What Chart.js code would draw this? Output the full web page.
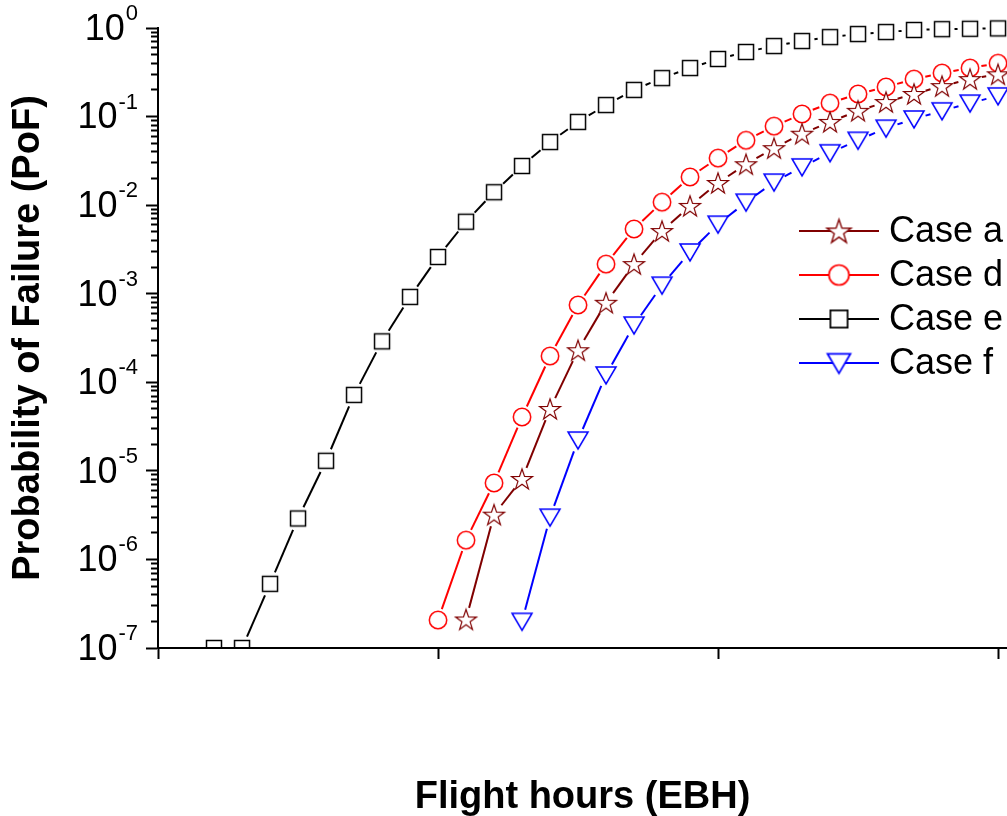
<!DOCTYPE html>
<html>
<head>
<meta charset="utf-8">
<script src="https://cdn.jsdelivr.net/npm/chart.js@4.4.1/dist/chart.umd.min.js"></script>
<style>
  html, body { margin: 0; padding: 0; background: #fff; }
</style>
</head>
<body>
<canvas id="pof_chart" width="1007" height="816"></canvas>
<script>
// flight hours axis (no tick labels on the original, major ticks every 10 steps)
const flightHours = [0, 1, 2, 3, 4, 5, 6, 7, 8, 9, 10, 11, 12, 13, 14, 15, 16, 17, 18, 19, 20, 21, 22, 23, 24, 25, 26, 27, 28, 29, 30];
const xTicks = [0, 10, 20, 30];
const yTickExp = [0, -1, -2, -3, -4, -5, -6, -7];

const caseA = [null, null, null, null, null, null, null, null, null, null, null,
  2.1e-7, 3.2e-6, 8.1e-6, 5.0e-5, 2.3e-4, 7.9e-4, 2.16e-3, 5.1e-3, 9.8e-3, 1.78e-2,
  2.9e-2, 4.4e-2, 6.4e-2, 8.7e-2, 0.116, 0.146, 0.18, 0.221, 0.265, 0.30];
const caseD = [null, null, null, null, null, null, null, null, null, null,
  2.07e-7, 1.65e-6, 7.3e-6, 4.06e-5, 1.98e-4, 7.46e-4, 2.16e-3, 5.38e-3, 1.08e-2, 2.08e-2, 3.4e-2,
  5.4e-2, 7.8e-2, 0.107, 0.142, 0.18, 0.216, 0.265, 0.31, 0.353, 0.40];
const caseE = [null, null,
  1e-7, 1e-7, 5.3e-7, 2.9e-6, 1.3e-5, 7.2e-5, 2.9e-4, 9.2e-4, 2.6e-3,
  6.5e-3, 1.4e-2, 2.77e-2, 5.16e-2, 8.7e-2, 0.135, 0.20, 0.272, 0.353, 0.447,
  0.536, 0.626, 0.713, 0.79, 0.855, 0.90, 0.95, 0.97, 0.98, 0.99];
const caseF = [null, null, null, null, null, null, null, null, null, null, null, null, null,
  2.0e-7, 3.0e-6, 2.23e-5, 1.21e-4, 4.43e-4, 1.25e-3, 2.96e-3, 6.1e-3,
  1.08e-2, 1.82e-2, 2.7e-2, 3.9e-2, 5.4e-2, 7.4e-2, 9.4e-2, 0.116, 0.142, 0.171];

const seriesNames = ["Case a", "Case d", "Case e", "Case f"];
const seriesColors = ["#800000", "#ff0000", "#000000", "#0000ff"];
const seriesShapes = ["star", "circle", "square", "triangle"];
const seriesValues = [caseA, caseD, caseE, caseF];

const fam = "'Liberation Sans', Arial, sans-serif";
Chart.defaults.font.family = fam;

// hollow origin-like symbols
function makeMarker(shape, color, k) {
  const s = Math.ceil(30 * k);
  const c = document.createElement("canvas");
  c.width = s;
  c.height = s;
  const g = c.getContext("2d");
  g.translate(s / 2, s / 2);
  g.scale(k, k);
  g.beginPath();
  if (shape === "square") {
    g.rect(-7.5, -7.5, 15, 15);
  } else if (shape === "circle") {
    g.arc(0, 0, 8.7, 0, Math.PI * 2);
  } else if (shape === "star") {
    for (let i = 0; i < 10; i++) {
      let r = i % 2 ? 4.3 : 11;
      let a = -Math.PI / 2 + (i * Math.PI) / 5;
      g.lineTo(r * Math.cos(a), r * Math.sin(a) + 1);
    }
    g.closePath();
  } else {
    g.moveTo(-10, -8);
    g.lineTo(10, -8);
    g.lineTo(0, 9);
    g.closePath();
  }
  g.fillStyle = "#fff";
  g.fill();
  g.lineWidth = shape === "star" ? 1.2 : 1.5;
  g.strokeStyle = color;
  g.stroke();
  return c;
}

const gapSize = { star: 12, circle: 11.5, square: 12.5, triangle: 12 };

// line stops short of each symbol, as in the original
function gappedDash(shape) {
  const gap = gapSize[shape];
  return (ctx) => {
    const dx = ctx.p1.x - ctx.p0.x;
    const dy = ctx.p1.y - ctx.p0.y;
    const len = Math.sqrt(dx * dx + dy * dy);
    const draw = len - 2 * gap;
    if (draw <= 0) return [0, len + 1000 + ctx.p0DataIndex];
    return [0, gap, draw, 1000 + ctx.p0DataIndex];
  };
}

const datasets = seriesNames.map((name, i) => ({
  label: name,
  data: flightHours
    .map((h, j) => ({ x: h, y: seriesValues[i][j] }))
    .filter((p) => p.y !== null),
  borderColor: seriesColors[i],
  borderWidth: 2,
  pointStyle: makeMarker(seriesShapes[i], seriesColors[i], 1),
  pointRadius: 9,
  pointHoverRadius: 9,
  showLine: true,
  fill: false,
  tension: 0,
  clip: { left: false, top: false, right: false, bottom: 0 },
  segment: { borderDash: gappedDash(seriesShapes[i]) },
}));

const legendMarkers = seriesShapes.map((s, i) => makeMarker(s, seriesColors[i], 1.15));

const yLabels = {
  id: "yLabels",
  afterDraw(chart) {
    const ctx = chart.ctx;
    const yScale = chart.scales.y;
    ctx.save();
    ctx.fillStyle = "#000";
    ctx.textBaseline = "middle";
    ctx.textAlign = "right";
    yTickExp.forEach((e) => {
      const py = yScale.getPixelForValue(Math.pow(10, e));
      const sup = String(e);
      ctx.font = "22px " + fam;
      const sw = ctx.measureText(sup).width;
      ctx.fillText(sup, 138, py - 14);
      ctx.font = "36px " + fam;
      ctx.fillText("10", 138 - sw - 1, py + 2);
    });
    ctx.restore();
  },
};

const insideLegend = {
  id: "insideLegend",
  afterDraw(chart) {
    const ctx = chart.ctx;
    ctx.save();
    chart.data.datasets.forEach((ds, i) => {
      const ly = 231 + i * 44;
      ctx.setLineDash([]);
      ctx.strokeStyle = ds.borderColor;
      ctx.lineWidth = 2;
      ctx.beginPath();
      ctx.moveTo(799, ly);
      ctx.lineTo(879, ly);
      ctx.stroke();
      const m = legendMarkers[i];
      ctx.drawImage(m, 839 - m.width / 2, ly - m.height / 2);
      ctx.fillStyle = "#000";
      ctx.font = "36px " + fam;
      ctx.textBaseline = "middle";
      ctx.textAlign = "left";
      ctx.fillText(ds.label, 889, ly + 1);
    });
    ctx.restore();
  },
};

let ctx = document.getElementById("pof_chart").getContext("2d");
let pofChart = new Chart(ctx, {
  type: "scatter",
  data: { datasets: datasets },
  plugins: [yLabels, insideLegend],
  options: {
    responsive: false,
    animation: false,
    events: [],
    layout: { autoPadding: false, padding: { top: 28, left: 0, right: 0, bottom: 0 } },
    plugins: {
      legend: { display: false },
      tooltip: { enabled: false },
    },
    scales: {
      x: {
        type: "linear",
        position: "bottom",
        min: 0,
        max: 30.32,
        afterBuildTicks: (scale) => {
          scale.ticks = xTicks.map((v) => ({ value: v }));
        },
        afterFit: (scale) => {
          scale.height = 168;
        },
        ticks: { display: false },
        grid: {
          display: true,
          drawOnChartArea: false,
          tickLength: 11,
          tickWidth: 2,
          tickColor: "#000",
        },
        border: { display: true, color: "#000", width: 2, z: 1 },
        title: {
          display: true,
          text: "Flight hours (EBH)",
          color: "#000",
          font: { size: 38, weight: "bold" },
          padding: { top: 0, bottom: -4 },
        },
      },
      y: {
        type: "logarithmic",
        position: "left",
        min: 1e-7,
        max: 1,
        afterBuildTicks: (scale) => {
          const t = [];
          yTickExp.slice().reverse().forEach((e) => {
            if (e === 0) {
              t.push({ value: 1, major: true });
              return;
            }
            for (let k = 1; k <= 9; k++) {
              t.push({ value: k * Math.pow(10, e), major: k === 1 });
            }
          });
          scale.ticks = t;
        },
        afterFit: (scale) => {
          scale.width = 158;
        },
        ticks: { display: false },
        grid: {
          display: true,
          drawOnChartArea: false,
          tickLength: 12,
          tickWidth: 2,
          tickColor: "#000",
          tickBorderDash: (c) => (c.tick && c.tick.major ? [] : [0, 5, 20]),
        },
        border: { display: true, color: "#000", width: 2 },
        title: {
          display: true,
          text: "Probability of Failure (PoF)",
          color: "#000",
          font: { size: 38, weight: "bold" },
          padding: { top: 6, bottom: 0 },
        },
      },
    },
  },
});
</script>
</body>
</html>
